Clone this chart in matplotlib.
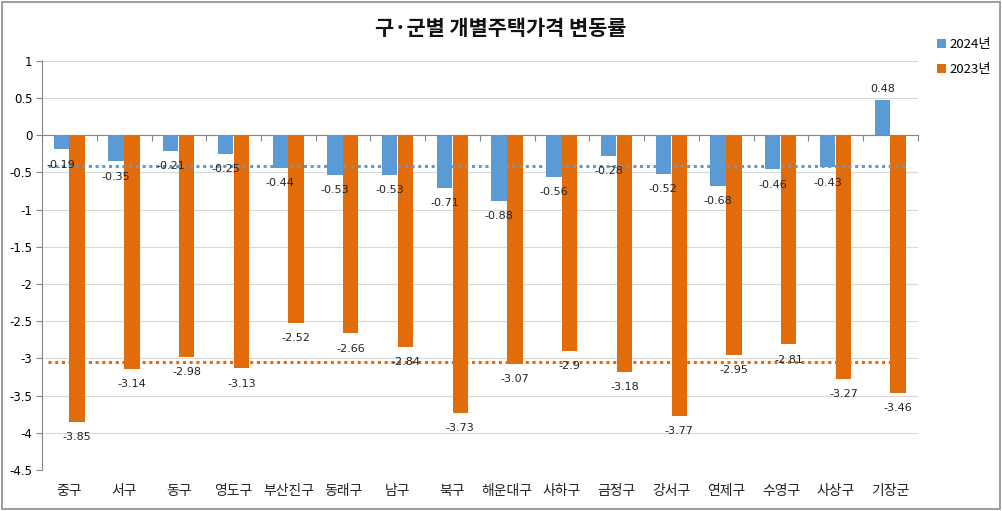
import matplotlib
matplotlib.use("Agg")
import matplotlib.pyplot as plt
import matplotlib.transforms as mtransforms
from matplotlib.patches import Rectangle
import numpy as np

plt.rcParams['font.family'] = ['Noto Sans CJK KR', 'DejaVu Sans']

categories = ['중구', '서구', '동구', '영도구', '부산진구', '동래구', '남구', '북구',
              '해운대구', '사하구', '금정구', '강서구', '연제구', '수영구', '사상구', '기장군']
values_2024 = [-0.19, -0.35, -0.21, -0.25, -0.44, -0.53, -0.53, -0.71,
               -0.88, -0.56, -0.28, -0.52, -0.68, -0.46, -0.43, 0.48]
values_2023 = [-3.85, -3.14, -2.98, -3.13, -2.52, -2.66, -2.84, -3.73,
               -3.07, -2.90, -3.18, -3.77, -2.95, -2.81, -3.27, -3.46]
avg_2024 = -0.41
avg_2023 = -3.05
series_names = ['2024년', '2023년']
title = '구·군별 개별주택가격 변동률'

c_blue = '#5B9BD5'
c_orange = '#E36C0A'

fig = plt.figure(figsize=(10.02, 5.11), dpi=100)
fig.patch.set_facecolor('white')
ax = fig.add_axes([0.042, 0.080, 0.874, 0.801])

x = np.arange(len(categories))
w = 0.28
b1 = ax.bar(x - 0.15, values_2024, w, color=c_blue, zorder=3, label=series_names[0])
b2 = ax.bar(x + 0.14, values_2023, w, color=c_orange, zorder=3, label=series_names[1])

ax.hlines(avg_2024, -0.4, 15.3, colors=c_blue, linestyles=(0, (1, 1.2)), linewidth=2.2, zorder=4)
ax.hlines(avg_2023, -0.4, 15.3, colors=c_orange, linestyles=(0, (1, 1.2)), linewidth=2.2, zorder=4)

for bars, vals in ((b1, values_2024), (b2, values_2023)):
    for rect, v in zip(bars, vals):
        cx = rect.get_x() + rect.get_width() / 2
        if v < 0:
            ax.annotate(f'{v:g}', (cx, v), xytext=(0, -7.5), textcoords='offset points',
                        ha='center', va='top', fontsize=8, color='#222222', zorder=5,
                        family=['DejaVu Sans'])
        else:
            ax.annotate(f'{v:g}', (cx, v), xytext=(0, 4), textcoords='offset points',
                        ha='center', va='bottom', fontsize=8, color='#222222', zorder=5,
                        family=['DejaVu Sans'])

ax.set_xlim(-0.5, len(categories) - 0.5)
ax.set_ylim(-4.5, 1)
ax.set_yticks(np.arange(-4.5, 1.01, 0.5))
ax.set_yticklabels([f'{t:g}' for t in np.arange(-4.5, 1.01, 0.5)], fontsize=8.5,
                   family=['DejaVu Sans'])
ax.yaxis.grid(True, color='#D9D9D9', linewidth=0.8, zorder=0)
ax.set_axisbelow(True)

for s in ('top', 'right'):
    ax.spines[s].set_visible(False)
ax.spines['left'].set_color('#868686')
ax.spines['bottom'].set_color('#868686')
ax.spines['bottom'].set_position(('data', 0))
ax.spines['bottom'].set_zorder(2)
ax.tick_params(axis='y', length=4, color='#868686', pad=3)
ax.set_xticks(np.arange(len(categories) + 1) - 0.5)
ax.set_xticklabels([])
ax.tick_params(axis='x', length=4, color='#868686', direction='out')

trans = mtransforms.blended_transform_factory(ax.transData, ax.transAxes)
for i, c in enumerate(categories):
    ax.text(i, -0.035, c, transform=trans, ha='center', va='top', fontsize=10, color='#222222')

fig.text(0.5, 0.945, title, ha='center', va='center', fontsize=15, fontweight='bold', color='#111111')

leg = ax.legend(handles=[b1, b2], loc='upper left', bbox_to_anchor=(1.008, 1.085),
                frameon=False, fontsize=9.5, handlelength=0.7, handleheight=0.7,
                handletextpad=0.3, labelspacing=0.95)

fig.patches.append(Rectangle((0.002, 0.004), 0.996, 0.992, transform=fig.transFigure,
                             fill=False, edgecolor='#8C8C8C', linewidth=1.2))

fig.savefig('out.png', dpi=100)
